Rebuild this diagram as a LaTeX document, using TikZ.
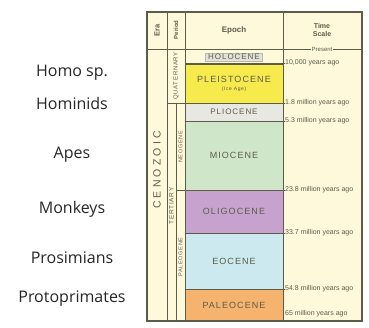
\documentclass[tikz,border=0pt]{standalone}
\usepackage{fontspec}
\setmainfont{Open Sans}
\newfontfamily\chartfont{Liberation Sans}
\usetikzlibrary{positioning}

\definecolor{chartbg}{HTML}{FFF9DC}
\definecolor{chartline}{HTML}{5C5C4A}
\definecolor{holo}{HTML}{E2E2DA}
\definecolor{pleisto}{HTML}{F6EA4C}
\definecolor{plio}{HTML}{E8E8E2}
\definecolor{mio}{HTML}{CFE6C8}
\definecolor{oligo}{HTML}{C8A2CE}
\definecolor{eo}{HTML}{CBE9EE}
\definecolor{paleo}{HTML}{F5B36E}

\begin{document}
\begin{tikzpicture}[x=1pt, y=-1pt,
  epoch/.style={draw=chartline, fill=#1, minimum width=98pt, inner sep=0pt, text=chartline,
    font=\chartfont\addfontfeature{LetterSpace=12}\fontsize{9}{9}\selectfont},
  small/.style={font=\chartfont\addfontfeature{LetterSpace=12}\fontsize{8}{8}\selectfont},
  vtext/.style={rotate=90, inner sep=0pt, text=chartline,
    font=\chartfont\addfontfeature{LetterSpace=12}\fontsize{#1}{#1}\selectfont},
  age/.style={anchor=west, inner sep=1pt, text=chartline, font=\chartfont\fontsize{7}{7}\selectfont},
  head/.style={text=chartline, inner sep=0pt, font=\chartfont\bfseries\fontsize{#1}{#1}\selectfont},
  grid/.style={draw=chartline, line width=0.7pt},
  primate/.style={font=\fontsize{16}{16}\selectfont, text=black!85}
]
\useasboundingbox (0,0) rectangle (369,328);

% Chart frame
\fill[chartbg] (147,12) rectangle (362,321);

% Epochs
\node[epoch=holo, draw=holo!70!chartline, small, minimum width=57pt, minimum height=8pt] (holocene) at (234,57) {HOLOCENE};
\node[epoch=pleisto, minimum height=39pt, align=center] (pleistocene) at (234,83.5)
  {PLEISTOCENE\\[-1pt]{\fontsize{5}{5}\selectfont(Ice Age)}};
\node[epoch=plio, small, minimum height=18pt] (pliocene) at (234,112) {PLIOCENE};
\node[epoch=mio, minimum height=69pt] (miocene) at (234,155.5) {MIOCENE};
\node[epoch=oligo, minimum height=43pt] (oligocene) at (234,211.5) {OLIGOCENE};
\node[epoch=eo, minimum height=56pt] (eocene) at (234,261) {EOCENE};
\node[epoch=paleo, minimum height=32pt] (paleocene) at (234,305) {PALEOCENE};

% Columns and boundaries
\draw[grid] (147,49) -- (362,49);
\draw[grid] (167,12) -- (167,321);
\draw[grid] (185,12) -- (185,321);
\draw[grid] (283,12) -- (283,321);
\draw[grid] (176,103) -- (176,321);
\draw[grid] (185,63) -- (285,63);
\draw[grid] (167,103) -- (285,103);
\draw[grid] (185,121) -- (285,121);
\draw[grid] (176,190) -- (285,190);
\draw[grid] (185,233) -- (285,233);
\draw[grid] (185,289) -- (285,289);
\draw[chartline, line width=1.3pt] (147,12) rectangle (362,321);

% Headers
\node[head=7.5, rotate=90] (era) at (157,30) {Era};
\node[head=6, rotate=90] (period) at (176,30) {Period};
\node[head=8] (epochhead) at (234,30) {Epoch};
\node[head=7, align=center] (timehead) at (322,30) {Time\\[1pt]Scale};
\node[age, anchor=center, fill=chartbg, font=\chartfont\fontsize{6}{6}\selectfont] (present) at (322,49) {Present};

% Era and periods
\node[vtext=10.5, font=\chartfont\addfontfeature{LetterSpace=30}\fontsize{10.5}{10.5}\selectfont] (cenozoic) at (157,170) {CENOZOIC};
\node[vtext=6] (quaternary) at (176,76) {QUATERNARY};
\node[vtext=6.5] (tertiary) at (171.5,206) {TERTIARY};
\node[vtext=5.5] (neogene) at (180.5,147) {NEOGENE};
\node[vtext=5.5] (paleogene) at (180.5,257) {PALEOGENE};

% Time scale
\node[age] (t1) at (284,63) {10,000 years ago};
\node[age] (t2) at (284,103) {1.8 million years ago};
\node[age] (t3) at (284,121) {5.3 million years ago};
\node[age] (t4) at (284,190) {23.8 million years ago};
\node[age] (t5) at (284,233) {33.7 million years ago};
\node[age] (t6) at (284,289) {54.8 million years ago};
\node[age] (t7) at (284,314) {65 million years ago};

% Primates
\node[primate] (homo) at (72,73) {Homo sp.};
\node[primate] (hominids) at (72,104) {Hominids};
\node[primate] (apes) at (72,155) {Apes};
\node[primate] (monkeys) at (72,209) {Monkeys};
\node[primate] (prosimians) at (72,258) {Prosimians};
\node[primate] (protoprimates) at (72,299) {Protoprimates};
\end{tikzpicture}
\end{document}
